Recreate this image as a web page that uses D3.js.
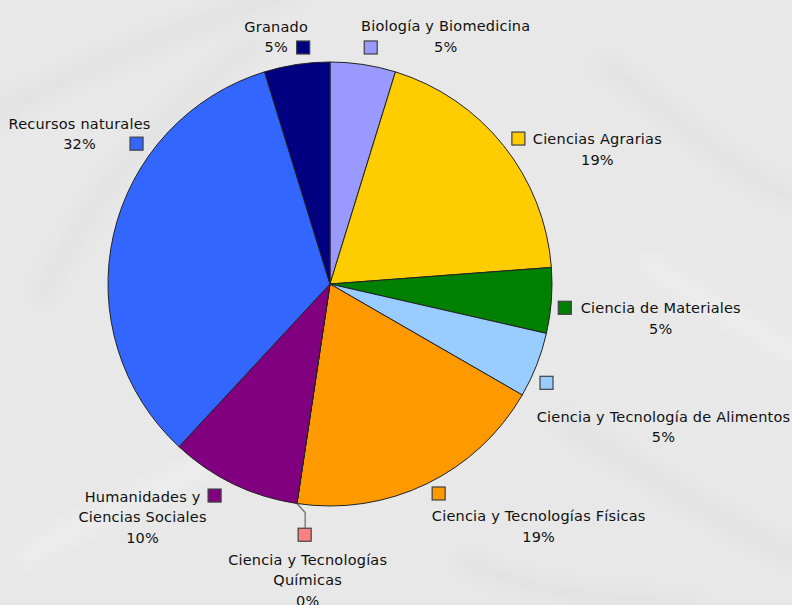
<!DOCTYPE html>
<html lang="es">
<head>
    <meta charset="UTF-8">
    <title>Distribución por área</title>
    <script src="https://d3js.org/d3.v7.min.js"></script>
    <style>
        body { margin: 0; }
        .lbl {
            font-size: 14.5px;
            letter-spacing: 0.2px;
            font-family: "DejaVu Sans", Verdana, sans-serif;
            fill: #111;
        }
    </style>
</head>
<body>
<script>
    // slices, clockwise from 12 o'clock
    let categories = ["Biología y Biomedicina", "Ciencias Agrarias", "Ciencia de Materiales",
        "Ciencia y Tecnología de Alimentos", "Ciencia y Tecnologías Físicas", "Ciencia y Tecnologías Químicas",
        "Humanidades y Ciencias Sociales", "Recursos naturales", "Granado"];
    let values = [1, 4, 1, 1, 4, 0, 2, 7, 1];
    let pctLabels = ["5%", "19%", "5%", "5%", "19%", "0%", "10%", "32%", "5%"];
    let labelLines = [
        ["Biología y Biomedicina"],
        ["Ciencias Agrarias"],
        ["Ciencia de Materiales"],
        ["Ciencia y Tecnología de Alimentos"],
        ["Ciencia y Tecnologías Físicas"],
        ["Ciencia y Tecnologías", "Químicas"],
        ["Humanidades y", "Ciencias Sociales"],
        ["Recursos naturales"],
        ["Granado"]
    ];
    let colors = ["#9999ff", "#ffcc00", "#008000", "#99ccff", "#ff9900", "#ff8080", "#800080", "#3366ff", "#000080"];

    // label layout: angle nudge (deg), key radius, text offset from key centre
    let keyNudge = [1.2, 0.9, 1.5, 3.1, -1.7, -2.8, 2.9, 23.1, 2.1];
    let keyRadius = [240, 238, 236, 238, 236, 252, 241, 239, 238];
    let textDx = [75, 79, 96, 117, 100, 3, -72, -57, -27];
    let textDy = [-16, 5.5, 5.5, 39, 28, 30, 6, -15, -16];

    let width = 792, height = 605;
    let cx = 330, cy = 284, radius = 222;

    let svg = d3.select("body").append("svg")
        .attr("width", width)
        .attr("height", height);

    // background with a faint texture
    let defs = svg.append("defs");
    defs.append("filter").attr("id", "blur")
        .attr("x", "-20%").attr("y", "-20%").attr("width", "140%").attr("height", "140%")
        .append("feGaussianBlur").attr("stdDeviation", 9);

    svg.append("rect")
        .attr("width", width)
        .attr("height", height)
        .attr("fill", "#e8e8e8");

    let texture = [
        ["M-20,120 C100,60 200,20 300,-10", "#dfdfdf"],
        ["M40,300 C90,200 150,120 260,40", "#e0e0e0"],
        ["M600,60 C680,120 740,180 800,200", "#e0e0e0"],
        ["M560,420 C640,470 720,520 800,560", "#dfdfdf"],
        ["M20,560 C120,500 200,470 300,420", "#efefef"],
        ["M640,260 C700,300 760,330 800,360", "#efefef"],
        ["M460,560 C520,590 600,600 700,605", "#e0e0e0"]
    ];
    svg.append("g").attr("filter", "url(#blur)")
        .selectAll("path").data(texture).join("path")
        .attr("d", d => d[0])
        .attr("fill", "none")
        .attr("stroke", d => d[1])
        .attr("stroke-width", 14);

    let pie = d3.pie().sort(null).value(d => d.value);
    let arcs = pie(categories.map((c, i) => ({name: c, value: values[i], i: i})));

    let arc = d3.arc().innerRadius(0).outerRadius(radius);

    let g = svg.append("g").attr("transform", "translate(" + cx + "," + cy + ")");

    g.selectAll("path.slice").data(arcs).join("path")
        .attr("class", "slice")
        .attr("d", arc)
        .attr("fill", d => colors[d.data.i])
        .attr("stroke", "#222")
        .attr("stroke-width", 1)
        .attr("stroke-linejoin", "round");

    function polar(angle, r) {
        return [Math.sin(angle) * r, -Math.cos(angle) * r];
    }

    // keys and labels
    arcs.forEach(d => {
        let i = d.data.i;
        let mid = (d.startAngle + d.endAngle) / 2;
        let a = mid + keyNudge[i] * Math.PI / 180;
        let k = polar(a, keyRadius[i]);

        // leader line for the empty slice
        if (d.data.value === 0) {
            let p0 = polar(mid, radius);
            let p1 = [k[0] + 0.5, p0[1] + 9];
            g.append("polyline")
                .attr("points", [p0, p1, [k[0] + 0.5, k[1] - 7]].map(p => p.join(",")).join(" "))
                .attr("fill", "none")
                .attr("stroke", "#666")
                .attr("stroke-width", 1.2);
        }

        g.append("rect")
            .attr("x", k[0] - 6.5)
            .attr("y", k[1] - 6.5)
            .attr("width", 13)
            .attr("height", 13)
            .attr("fill", colors[i])
            .attr("stroke", "#404040")
            .attr("stroke-width", 1.2);

        let lines = labelLines[i].concat([pctLabels[i]]);
        let t = g.append("text")
            .attr("class", "lbl")
            .attr("text-anchor", "middle")
            .attr("x", k[0] + textDx[i])
            .attr("y", k[1] + textDy[i]);
        lines.forEach((s, j) => {
            t.append("tspan")
                .attr("x", k[0] + textDx[i])
                .attr("dy", j === 0 ? 0 : 20.5)
                .text(s);
        });
    });
</script>
</body>
</html>
